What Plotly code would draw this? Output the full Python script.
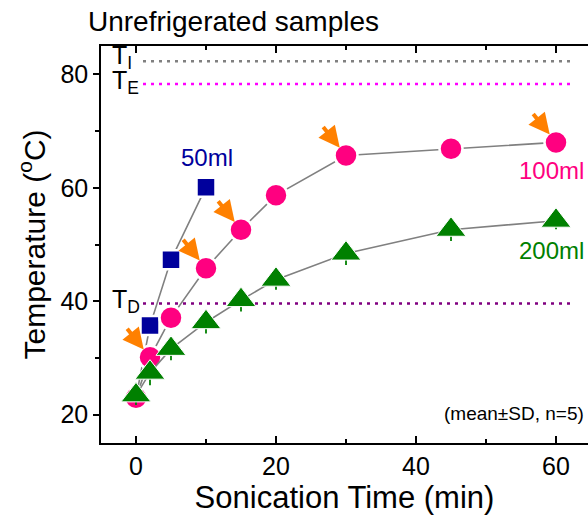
import plotly.graph_objects as go

# ---- data ----
t_50 = [0, 2, 5, 10]
temp_50 = [23.0, 35.7, 47.3, 60.1]
sd_50 = [0.8, 0.8, 0.8, 0.8]

t_100 = [0, 2, 5, 10, 15, 20, 30, 45, 60]
temp_100 = [23.0, 30.1, 37.1, 45.8, 52.6, 58.7, 65.7, 66.9, 68.0]
sd_100 = [0.8, 0.8, 0.8, 1.0, 1.0, 0.8, 0.8, 0.8, 0.8]

t_200 = [0, 2, 5, 10, 15, 20, 30, 45, 60]
temp_200 = [23.4, 27.4, 31.6, 36.3, 40.2, 43.8, 48.4, 52.6, 54.2]
sd_200 = [1.7, 2.2, 2.0, 2.0, 2.0, 1.8, 2.0, 2.0, 1.5]

T_I, T_E, T_D = 82.3, 78.3, 39.6
arrow_t = [2, 10, 15, 30, 60]

FONT = "Arial, Liberation Sans, sans-serif"
GRAY = "#808080"

fig = go.Figure()

# reference lines
for val, col in [(T_I, "#808080"), (T_E, "#FF00FF"), (T_D, "#800080")]:
    fig.add_trace(go.Scatter(x=[1, 62], y=[val, val], mode="lines",
                             line=dict(color=col, width=2.5, dash="3px,5px"),
                             showlegend=False, hoverinfo="skip"))

def series(x, y, sd, color, symbol, size, outline):
    fig.add_trace(go.Scatter(
        x=x, y=y, mode="lines+markers",
        line=dict(color=GRAY, width=1.6),
        marker=dict(color=color, symbol=symbol, size=size,
                    line=dict(color="white", width=outline)),
        error_y=dict(type="data", array=sd, visible=True, color=color,
                     thickness=1.8, width=0),
        showlegend=False))

series(t_50, temp_50, sd_50, "#00009C", "square", 19, 2.5)
series(t_100, temp_100, sd_100, "#FF0080", "circle", 23, 2.5)
series(t_200, temp_200, sd_200, "#008000", "triangle-up", 26, 1.0)

ann = []
# orange arrows
tmap = dict(zip(t_100, temp_100))
for t in arrow_t:
    ann.append(dict(x=t, y=tmap[t], xref="x", yref="y", text="",
                    showarrow=True, arrowhead=2, arrowsize=1.05,
                    arrowwidth=4, arrowcolor="#FF8000",
                    ax=-24, ay=-30, standoff=10))

# T labels
for base, sub, yv in [("T", "I", 83.0), ("T", "E", 78.6), ("T", "D", 40.0)]:
    ann.append(dict(x=-3.7, y=yv, xref="x", yref="y",
                    text=f"{base}<sub>{sub}</sub>", showarrow=False,
                    xanchor="left", yanchor="middle",
                    font=dict(family=FONT, size=25, color="black")))

ann.append(dict(x=10.1, y=65.3, xref="x", yref="y", text="50ml", showarrow=False,
                font=dict(family=FONT, size=24, color="#00009C")))
ann.append(dict(x=59.4, y=63.0, xref="x", yref="y", text="100ml", showarrow=False,
                font=dict(family=FONT, size=24, color="#FF0080")))
ann.append(dict(x=59.4, y=48.9, xref="x", yref="y", text="200ml", showarrow=False,
                font=dict(family=FONT, size=24, color="#008000")))
ann.append(dict(x=0.995, y=20.2, xref="paper", yref="y", text="(mean±SD, n=5)",
                showarrow=False, xanchor="right", yanchor="middle",
                font=dict(family=FONT, size=19, color="black")))

fig.update_layout(
    width=588, height=523,
    margin=dict(l=101, r=0, t=46, b=80),
    paper_bgcolor="white", plot_bgcolor="white",
    font=dict(family=FONT, size=20, color="black"),
    title=dict(text="Unrefrigerated samples", x=88 / 588, xanchor="left",
               y=1 - 21 / 523, yanchor="middle",
               font=dict(family=FONT, size=28, color="black")),
    annotations=ann,
    xaxis=dict(range=[-5, 64.57], tickvals=[0, 20, 40, 60], automargin=False,
               ticks="inside", ticklen=7, tickwidth=1.5, tickcolor="black",
               minor=dict(tickvals=[10, 30, 50], ticks="inside", ticklen=4,
                          tickwidth=1.5, tickcolor="black"),
               showline=True, linecolor="black", linewidth=1.5, mirror="ticks",
               showgrid=False, zeroline=False,
               tickfont=dict(family=FONT, size=25),
               title=dict(text="Sonication Time (min)", standoff=6,
                          font=dict(family=FONT, size=31))),
    yaxis=dict(range=[15, 85], tickvals=[20, 40, 60, 80], automargin=False,
               ticks="outside", ticklen=6, tickwidth=1.5, tickcolor="black",
               minor=dict(tickvals=[30, 50, 70], ticks="outside", ticklen=4,
                          tickwidth=1.5, tickcolor="black"),
               showline=True, linecolor="black", linewidth=1.5, mirror=False,
               showgrid=False, zeroline=False,
               tickfont=dict(family=FONT, size=25),
               title=dict(text="Temperature (<sup>o</sup>C)", standoff=6,
                          font=dict(family=FONT, size=30))),
)

fig.write_html("out.html", config={"displayModeBar": False},
               post_script="document.body.style.margin='0px';document.body.style.overflow='hidden';")
